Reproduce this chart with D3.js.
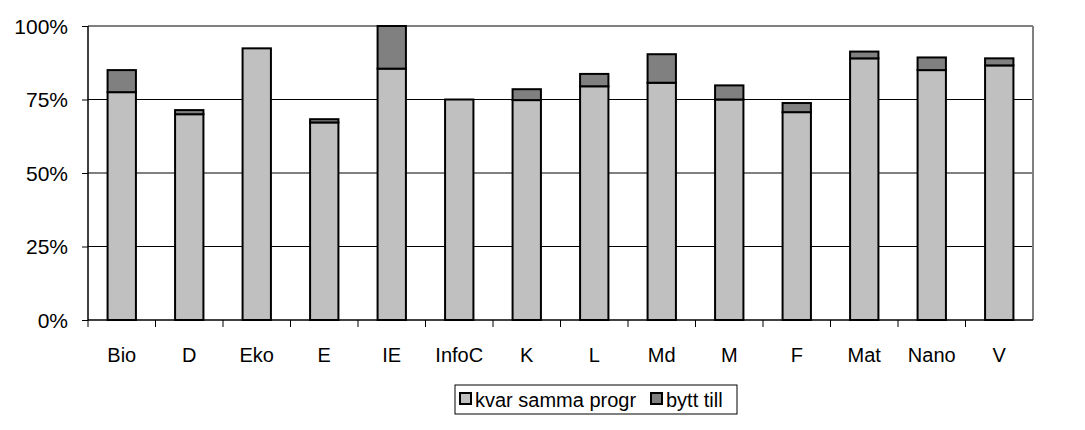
<!DOCTYPE html>
<html>
<head>
<meta charset="utf-8">
<script src="https://cdn.jsdelivr.net/npm/d3@7"></script>
<style>
  body { margin: 0; background: #fff; }
  svg text { font-family: "Liberation Sans", Arial, sans-serif; fill: #000; }
</style>
</head>
<body>
<svg id="chart" width="1085" height="430"></svg>
<script>
// program codes
var categories = ["Bio", "D", "Eko", "E", "IE", "InfoC", "K", "L", "Md", "M", "F", "Mat", "Nano", "V"];
// % stayed in same programme / % switched
var kvar = [77.5, 70, 92.4, 67.2, 85.5, 75, 74.8, 79.5, 80.7, 75, 70.7, 89, 85, 86.6];
var bytt = [7.5, 1.4, 0, 1.1, 14.5, 0, 3.7, 4.2, 9.7, 4.8, 3.1, 2.3, 4.3, 2.4];
var seriesNames = ["kvar samma progr", "bytt till"];
var yTicks = [0, 25, 50, 75, 100];

var colors = ["#c0c0c0", "#808080"];

var pLeft = 88, pRight = 1033, pTop = 26, pBottom = 320;
var svg = d3.select("#chart");

var x = d3.scaleBand().domain(categories).range([pLeft, pRight]).paddingInner(0.58).paddingOuter(0.29);
var y = d3.scaleLinear().domain([0, 100]).range([pBottom, pTop]);

var rows = categories.map(function(c, i) { return {cat: c, kvar: kvar[i], bytt: bytt[i]}; });
var stacked = d3.stack().keys(["kvar", "bytt"])(rows);

// gridlines
svg.append("g").selectAll("line")
  .data(yTicks.filter(function(t) { return t > 0 && t < 100; }))
  .join("line")
  .attr("x1", pLeft).attr("x2", pRight)
  .attr("y1", function(d) { return y(d); }).attr("y2", function(d) { return y(d); })
  .style("stroke", "#000").style("stroke-width", 1);

// plot border top / right
svg.append("line").attr("x1", pLeft).attr("x2", pRight).attr("y1", y(100)).attr("y2", y(100))
  .style("stroke", "#808080").style("stroke-width", 2);
svg.append("line").attr("x1", pRight).attr("x2", pRight).attr("y1", y(100)).attr("y2", y(0))
  .style("stroke", "#808080").style("stroke-width", 2);

// bars
svg.append("g").selectAll("g")
  .data(stacked)
  .join("g")
  .style("fill", function(d, i) { return colors[i]; })
  .selectAll("rect")
  .data(function(d) { return d.filter(function(p) { return p[1] - p[0] > 0; }); })
  .join("rect")
  .attr("x", function(d) { return x(d.data.cat); })
  .attr("width", x.bandwidth())
  .attr("y", function(d) { return y(d[1]); })
  .attr("height", function(d) { return y(d[0]) - y(d[1]); })
  .style("stroke", "#000").style("stroke-width", 2);

// y axis
var yAxis = d3.axisLeft(y).tickValues(yTicks).tickFormat(function(d) { return d + "%"; })
  .tickSize(6).tickPadding(14);
var gy = svg.append("g").attr("transform", "translate(" + pLeft + ",0)").call(yAxis);
gy.select(".domain").remove();
gy.selectAll(".tick line").style("stroke", "#000");
gy.selectAll("text").style("font-size", "21px").attr("dy", "0.35em");
svg.append("line").attr("x1", pLeft).attr("x2", pLeft).attr("y1", pTop).attr("y2", pBottom)
  .style("stroke", "#000").style("stroke-width", 1.5);

// x axis: ticks sit on category boundaries
var bw = (pRight - pLeft) / categories.length;
var bounds = d3.range(categories.length).map(function(i) { return pLeft + i * bw; });
svg.append("line").attr("x1", pLeft).attr("x2", pRight).attr("y1", pBottom).attr("y2", pBottom)
  .style("stroke", "#000").style("stroke-width", 1.5);
svg.append("g").selectAll("line")
  .data(bounds)
  .join("line")
  .attr("x1", function(d) { return d; }).attr("x2", function(d) { return d; })
  .attr("y1", pBottom).attr("y2", pBottom + 7)
  .style("stroke", "#000").style("stroke-width", 1);
svg.append("g").selectAll("text")
  .data(categories)
  .join("text")
  .attr("x", function(d) { return x(d) + x.bandwidth() / 2; })
  .attr("y", 362)
  .attr("text-anchor", "middle")
  .style("font-size", "20px")
  .text(function(d) { return d; });

// legend
var lg = svg.append("g").attr("transform", "translate(455,385)");
lg.append("rect").attr("width", 282).attr("height", 29).style("fill", "#fff")
  .style("stroke", "#000").style("stroke-width", 1);
var lx = [5, 196];
seriesNames.forEach(function(name, i) {
  lg.append("rect").attr("x", lx[i]).attr("y", 8).attr("width", 11).attr("height", 11)
    .style("fill", colors[i]).style("stroke", "#000").style("stroke-width", 2);
  lg.append("text").attr("x", lx[i] + 15).attr("y", 21.5).style("font-size", "20px").text(name);
});
</script>
</body>
</html>
